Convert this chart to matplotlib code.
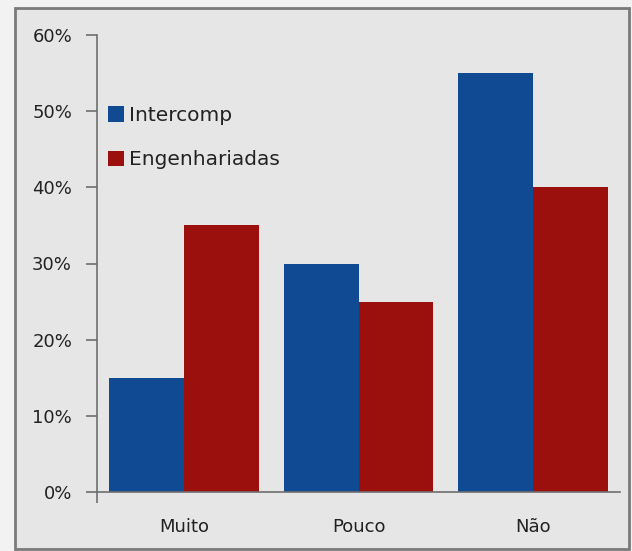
import numpy as np
import matplotlib.pyplot as plt
from matplotlib.patches import Rectangle, Patch
from matplotlib.ticker import PercentFormatter

categories = ['Muito', 'Pouco', 'Não']
intercomp = [15, 30, 55]
engenhariadas = [35, 25, 40]
series_names = ['Intercomp', 'Engenhariadas']
yticks = [0, 10, 20, 30, 40, 50, 60]

blue = '#0f4a92'
red = '#9b0f0c'
bg = '#e6e6e6'

plt.rcParams['font.family'] = ['DejaVu Sans']

fig = plt.figure(figsize=(6.32, 5.51), dpi=100)
fig.patch.set_facecolor('#f2f2f2')

# outer frame of the chart area
W, H = 632, 551
fig.patches.append(Rectangle((15 / W, 2 / H), 614 / W, 541 / H, transform=fig.transFigure,
                             facecolor=bg, edgecolor='#7a7a7a', linewidth=2, zorder=-5))

ax = fig.add_axes([97 / W, 59 / H, 523 / W, 457 / H])
ax.set_zorder(2)
ax.set_facecolor('none')

x = np.arange(len(categories))
w = 0.43
ax.bar(x - w / 2, intercomp, w, color=blue, label=series_names[0])
ax.bar(x + w / 2, engenhariadas, w, color=red, label=series_names[1])

ax.set_xlim(-0.5, 2.5)
ax.set_ylim(0, 60)
ax.set_yticks(yticks)
ax.yaxis.set_major_formatter(PercentFormatter(decimals=0))
ax.set_xticks(x)
ax.set_xticklabels(categories)
ax.set_xticks([-0.5], minor=True)

for s in ['top', 'right']:
    ax.spines[s].set_visible(False)
for s in ['left', 'bottom']:
    ax.spines[s].set_color('#6e6e6e')
    ax.spines[s].set_linewidth(1.2)

ax.tick_params(axis='y', direction='out', length=8, width=1.2, color='#6e6e6e',
               labelsize=13, labelcolor='#222222', pad=10)
ax.tick_params(axis='x', which='major', length=0, labelsize=13, labelcolor='#222222', pad=19)
ax.tick_params(axis='x', which='minor', direction='out', length=8, width=1.2, color='#6e6e6e')

handles = [Patch(facecolor=blue), Patch(facecolor=red)]
ax.legend(handles, series_names, loc='upper left', bbox_to_anchor=(0.005, 0.862),
          frameon=False, fontsize=14.5, handlelength=0.8, handleheight=0.8,
          handletextpad=0.25, labelspacing=1.25, borderaxespad=0, labelcolor='#222222')

fig.savefig('out.png', dpi=100, facecolor=fig.get_facecolor())
